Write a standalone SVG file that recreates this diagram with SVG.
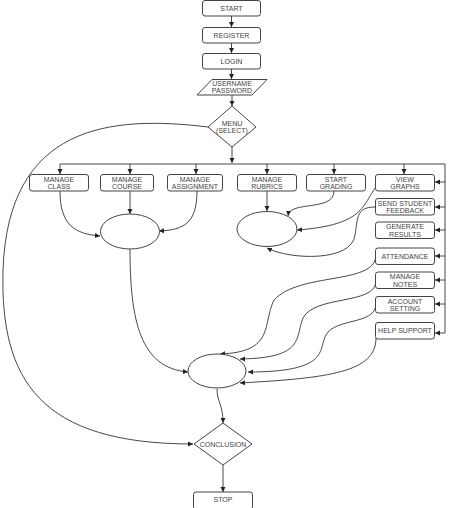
<svg xmlns="http://www.w3.org/2000/svg" width="451" height="508" viewBox="0 0 451 508">
<defs>
<marker id="ah" markerWidth="6" markerHeight="6" refX="5" refY="3" orient="auto" markerUnits="userSpaceOnUse">
<path d="M0,0.5 L5,3 L0,5.5 Z" fill="#222"/>
</marker>
<style>
.b{fill:#fff;stroke:#444;stroke-width:1}
.t{font-family:"Liberation Sans",Arial,sans-serif;font-size:7px;fill:#444;text-anchor:middle}
.c{fill:none;stroke:#333;stroke-width:0.9;marker-end:url(#ah)}
.l{fill:none;stroke:#333;stroke-width:0.9}
</style>
</defs>
<rect width="451" height="508" fill="#fff"/>
<g id="connectors">
<path class="c" d="M231.5,16 V27"/>
<path class="c" d="M231.5,43 V53"/>
<path class="c" d="M231.5,69 V79"/>
<path class="c" d="M232,95 V106"/>
<path class="c" d="M232,147 V163"/>
<path class="l" d="M60,164 H445 V333"/>
<path class="c" d="M60,164 V174"/>
<path class="c" d="M130,164 V174"/>
<path class="c" d="M196,164 V174"/>
<path class="c" d="M267,164 V174"/>
<path class="c" d="M334,164 V174"/>
<path class="c" d="M404,164 V174"/>
<path class="c" d="M445,182 H435"/>
<path class="c" d="M445,207 H435"/>
<path class="c" d="M445,230 H435"/>
<path class="c" d="M445,256 H435"/>
<path class="c" d="M445,280 H435"/>
<path class="c" d="M445,304 H435"/>
<path class="c" d="M445,333 H435"/>
<path class="c" d="M60,191 C60,225 75,234 100,236"/>
<path class="c" d="M130,191 V214"/>
<path class="c" d="M197,191 C197,222 185,230 159,231"/>
<path class="c" d="M267,191 V211"/>
<path class="c" d="M334,191 C334,212 290,200 288,216"/>
<path class="c" d="M376,187 C362,205 365,225 297,230"/>
<path class="c" d="M375,207 C355,207 358,220 355,235 C352,262 290,260 267,248"/>
<path class="c" d="M376,256 C374,285 300,272 274,300 C262,325 275,352 220,354"/>
<path class="c" d="M376,282 C374,305 315,295 303,318 C295,338 305,358 240,359"/>
<path class="c" d="M376,305 C374,325 335,318 326,335 C318,350 330,372 248,372"/>
<path class="c" d="M376,338 C376,372 330,378 240,383"/>
<path class="c" d="M130,249 C130,320 140,368 188,372"/>
<path class="c" d="M217,389 C217,402 223,404 223,423"/>
<path class="c" d="M208,127 C110,115 8,125 3,270 C0,380 40,444 193,444"/>
<path class="c" d="M223,465 V492"/>
</g>
<g id="start"><rect class="b" x="202.5" y="0.5" width="58" height="15.5" rx="2.5"/><text class="t" x="231.5" y="10.5">START</text></g>
<g id="register"><rect class="b" x="202.5" y="27.5" width="58" height="15.5" rx="2.5"/><text class="t" x="231.5" y="37.5">REGISTER</text></g>
<g id="login"><rect class="b" x="202.5" y="53.5" width="58" height="15.5" rx="2.5"/><text class="t" x="231.5" y="63.5">LOGIN</text></g>
<g id="credentials"><path class="b" d="M212,79.5 H267 L252,95 H197 Z"/><text class="t" x="232" y="86">USERNAME</text><text class="t" x="232" y="93">PASSWORD</text></g>
<g id="menu"><path class="b" d="M232,106 L256,127 L232,147 L208,127 Z"/><text class="t" x="232" y="125.5">MENU</text><text class="t" x="232" y="132.5">(SELECT)</text></g>
<g id="manage-class"><rect class="b" x="29.5" y="174.5" width="59" height="16.5" rx="2.5"/><text class="t" x="59" y="181.5">MANAGE</text><text class="t" x="59" y="189">CLASS</text></g>
<g id="manage-course"><rect class="b" x="100.5" y="174.5" width="53" height="16.5" rx="2.5"/><text class="t" x="127" y="181.5">MANAGE</text><text class="t" x="127" y="189">COURSE</text></g>
<g id="manage-assignment"><rect class="b" x="167.5" y="174.5" width="55" height="16.5" rx="2.5"/><text class="t" x="195" y="181.5">MANAGE</text><text class="t" x="195" y="189">ASSIGNMENT</text></g>
<g id="manage-rubrics"><rect class="b" x="237.5" y="174.5" width="59" height="16.5" rx="2.5"/><text class="t" x="267" y="181.5">MANAGE</text><text class="t" x="267" y="189">RUBRICS</text></g>
<g id="start-grading"><rect class="b" x="306.5" y="174.5" width="59" height="16.5" rx="2.5"/><text class="t" x="336" y="181.5">START</text><text class="t" x="336" y="189">GRADING</text></g>
<g id="view-graphs"><rect class="b" x="375.5" y="174.5" width="59" height="16.5" rx="2.5"/><text class="t" x="405" y="181.5">VIEW</text><text class="t" x="405" y="189">GRAPHS</text></g>
<g id="send-feedback"><rect class="b" x="375.5" y="198.5" width="59" height="16.5" rx="2.5"/><text class="t" x="405" y="205.5">SEND STUDENT</text><text class="t" x="405" y="213">FEEDBACK</text></g>
<g id="generate-results"><rect class="b" x="375.5" y="222" width="59" height="16.5" rx="2.5"/><text class="t" x="405" y="229">GENERATE</text><text class="t" x="405" y="236.5">RESULTS</text></g>
<g id="attendance"><rect class="b" x="375.5" y="248" width="59" height="16.5" rx="2.5"/><text class="t" x="405" y="258.5">ATTENDANCE</text></g>
<g id="manage-notes"><rect class="b" x="375.5" y="272" width="59" height="16.5" rx="2.5"/><text class="t" x="405" y="279">MANAGE</text><text class="t" x="405" y="286.5">NOTES</text></g>
<g id="account-setting"><rect class="b" x="375.5" y="296.5" width="59" height="16.5" rx="2.5"/><text class="t" x="405" y="303.5">ACCOUNT</text><text class="t" x="405" y="311">SETTING</text></g>
<g id="help-support"><rect class="b" x="375.5" y="322.5" width="59" height="16.5" rx="2.5"/><text class="t" x="405" y="333">HELP SUPPORT</text></g>
<g id="merge-1"><ellipse class="b" cx="130" cy="231.5" rx="29.5" ry="17.5"/></g>
<g id="merge-2"><ellipse class="b" cx="267" cy="229" rx="30" ry="17.5"/></g>
<g id="merge-3"><ellipse class="b" cx="217" cy="371" rx="29" ry="17"/></g>
<g id="conclusion"><path class="b" d="M223,423 L252,444 L223,465 L194,444 Z"/><text class="t" x="223" y="446.5">CONCLUSION</text></g>
<g id="stop"><rect class="b" x="193.5" y="492" width="59" height="17" rx="2.5"/><text class="t" x="223" y="502">STOP</text></g>
</svg>
